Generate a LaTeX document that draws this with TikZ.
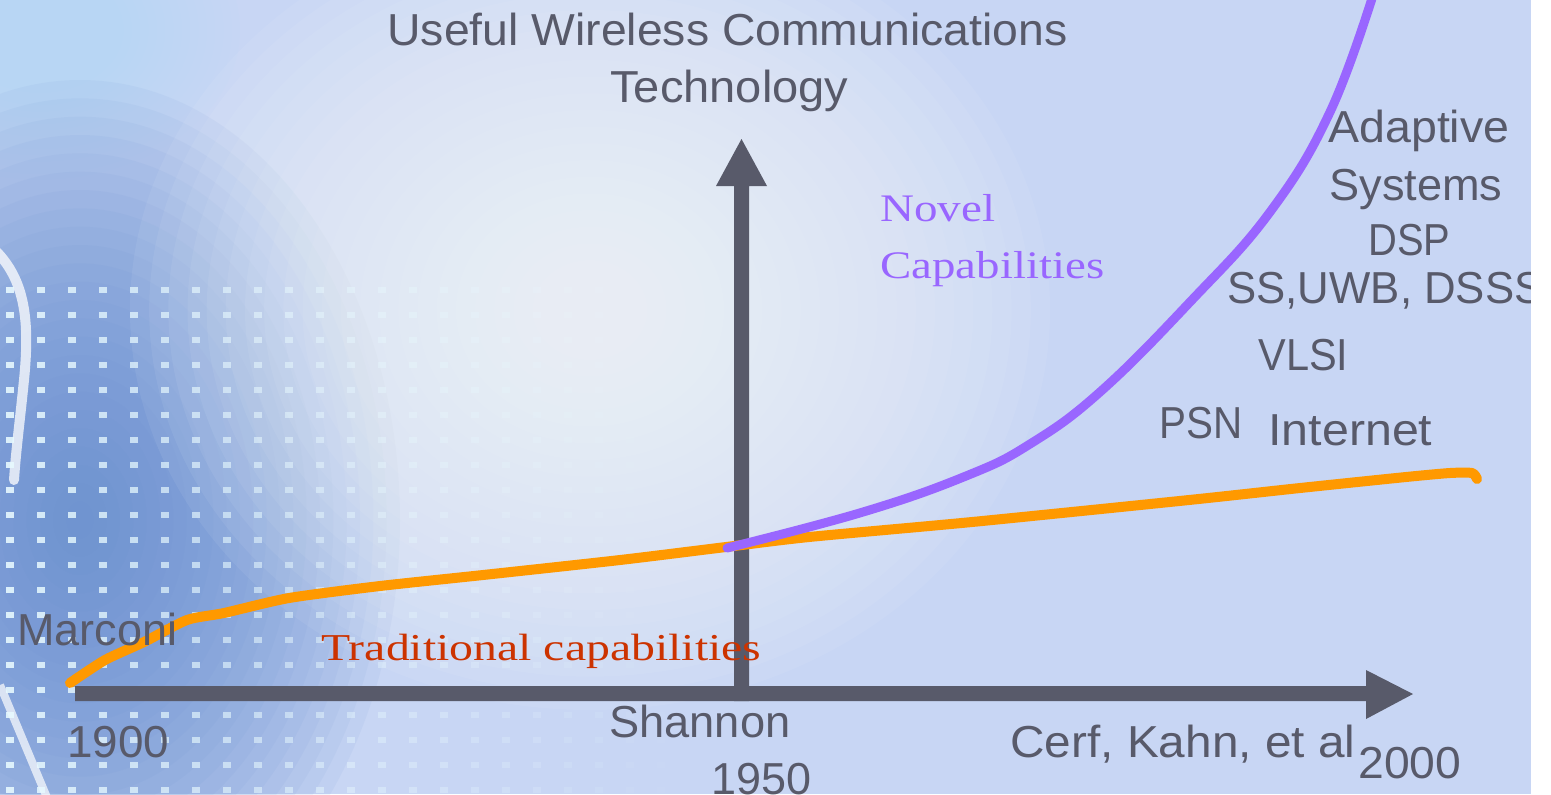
\documentclass[tikz,border=0pt]{standalone}
\usepackage{fontspec}
\usepackage{graphicx}
\setmainfont{Liberation Serif}
\setsansfont{Liberation Sans}
\newcommand\fitto[2]{\resizebox{#1}{\height}{#2}}
\definecolor{bgbase}{RGB}{200,214,244}
\definecolor{bgwhite}{RGB}{246,250,253}
\definecolor{bgblue}{RGB}{100,140,208}
\definecolor{bgcyan}{RGB}{184,226,250}
\definecolor{dotcol}{RGB}{232,250,255}
\definecolor{axisgray}{RGB}{88,90,106}
\definecolor{curveorange}{RGB}{255,153,0}
\definecolor{curvepurple}{RGB}{153,102,255}
\definecolor{tradred}{RGB}{204,51,0}
\tikzset{
  lbl/.style={inner sep=0pt, anchor=base west, text=axisgray, font=\sffamily\fontsize{22.4}{26}\selectfont},
  serlbl/.style={inner sep=0pt, anchor=base west, font=\rmfamily\fontsize{19.5}{23}\selectfont},
  axisfill/.style={fill=axisgray},
  orangecurve/.style={draw=curveorange, line width=5pt, line cap=round, line join=round},
  purplecurve/.style={draw=curvepurple, line width=4.5pt, line cap=round, line join=round},
}
\begin{document}
\begin{tikzpicture}[x=0.5pt, y=-0.5pt]
\useasboundingbox (0,0) rectangle (1551,794);
\begin{scope}
\clip (0,0) rectangle (1531,794);
% background
\fill[bgbase] (0,0) rectangle (1531,794);
\foreach \k in {0,...,23}{
  \fill[bgcyan, fill opacity=0.07] (40,30) ellipse [x radius={200*(1-\k/24)}, y radius={150*(1-\k/24)}];
}
\foreach \k in {0,...,23}{
  \fill[bgblue, fill opacity=0.07] (80,520) ellipse [x radius={320*(1-\k/24)}, y radius={440*(1-\k/24)}];
}
\foreach \k in {0,...,23}{
  \fill[bgwhite, fill opacity=0.07] (590,310) ellipse [x radius={460*(1-\k/24)}, y radius={400*(1-\k/24)}];
}
% white arcs at left
\draw[white, line width=5pt, opacity=0.75, line cap=round] (-5,250) .. controls (25,280) and (30,320) .. (24,380) .. controls (20,420) and (16,450) .. (14,480);
\draw[white, line width=4pt, opacity=0.7] (0,685) -- (48,800);
% dot grid
\foreach \i in {0,...,22}{
  \foreach \j in {0,...,20}{
    \pgfmathsetmacro\dx{10+31*\i}
    \pgfmathsetmacro\dy{290+25*\j}
    \pgfmathsetmacro\op{max(0,0.9-\dx/760)}
    \fill[dotcol, fill opacity=\op] (\dx-4,\dy-3) rectangle (\dx+4,\dy+3);
  }
}
% axes
\fill[axisfill] (75,686) -- (1366,686) -- (1366,670) -- (1413,694) -- (1366,719) -- (1366,701) -- (75,701) -- cycle;
\fill[axisfill] (734,701) -- (734,186) -- (716,186) -- (741.5,139) -- (767,186) -- (749,186) -- (749,701) -- cycle;
% curves
\draw[orangecurve] plot[smooth, tension=0.4] coordinates {(70,683) (105,660) (144,642) (187,620) (224,613) (289,598) (380,586) (483,575) (620,560) (726,547) (809,537) (972,522) (1189,500) (1300,488) (1406,477) (1450,473) (1472,473) (1477,479)};
\draw[purplecurve] plot[smooth, tension=0.7] coordinates {(727,548) (863,512) (966,476) (1030,444) (1100,392) (1190,302) (1270,212) (1330,112) (1374,-8)};
% labels
\node[lbl] (useful) at (387,45) {\fitto{340pt}{Useful Wireless Communications}};
\node[lbl] (techn) at (610,102) {\fitto{119pt}{Technology}};
\node[lbl] (marconi) at (17,645) {\fitto{80pt}{Marconi}};
\node[lbl] (y1900) at (67,757) {\fitto{51pt}{1900}};
\node[lbl] (shannon) at (609,737) {\fitto{90.5pt}{Shannon}};
\node[lbl] (y1950) at (711,794) {\fitto{50pt}{1950}};
\node[lbl] (cerf) at (1010,757) {\fitto{172.5pt}{Cerf, Kahn, et al}};
\node[lbl] (y2000) at (1358,778) {\fitto{51.5pt}{2000}};
\node[lbl] (adaptive) at (1328,142) {\fitto{90.5pt}{Adaptive}};
\node[lbl] (systems) at (1329,200) {\fitto{86.5pt}{Systems}};
\node[lbl] (dsp) at (1368,255) {\fitto{41pt}{DSP}};
\node[lbl] (ssuwb) at (1227,303) {\fitto{158pt}{SS,UWB, DSSS}};
\node[lbl] (vlsi) at (1258,370) {\fitto{45pt}{VLSI}};
\node[lbl] (psn) at (1159,438) {\fitto{41.5pt}{PSN}};
\node[lbl] (internet) at (1268,445) {\fitto{82pt}{Internet}};
\node[serlbl, text=curvepurple] (novel) at (880,221) {\fitto{57.5pt}{Novel}};
\node[serlbl, text=curvepurple] (capab) at (880,278) {\fitto{112pt}{Capabilities}};
\node[serlbl, text=tradred, font=\rmfamily\fontsize{19}{23}\selectfont] (trad) at (321,660) {\fitto{220pt}{Traditional capabilities}};
\end{scope}
\fill[white] (1531,0) rectangle (1551,794);
\end{tikzpicture}
\end{document}
